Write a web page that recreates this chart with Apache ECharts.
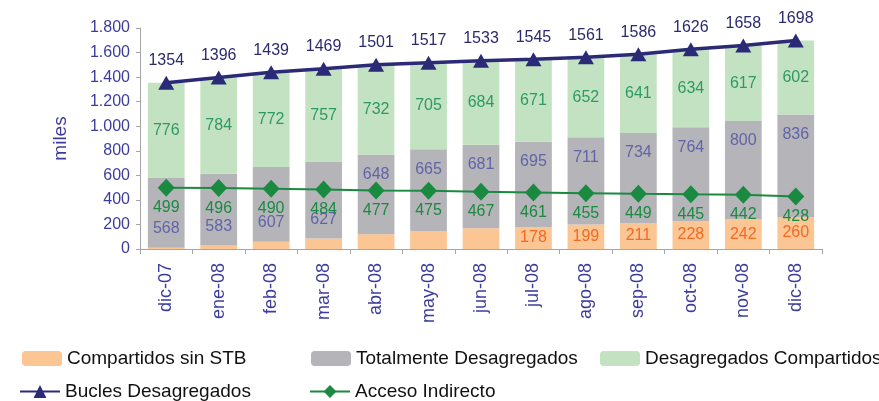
<!DOCTYPE html>
<html>
<head>
<meta charset="utf-8">
<script src="https://cdn.jsdelivr.net/npm/echarts@6/dist/echarts.min.js"></script>
<style>
html,body{margin:0;padding:0;background:#fff;}
#chart{width:879px;height:401px;}
</style>
</head>
<body>
<div id="chart"></div>
<script>
// datos (miles)
var months = ['dic-07','ene-08','feb-08','mar-08','abr-08','may-08','jun-08','jul-08','ago-08','sep-08','oct-08','nov-08','dic-08'];
var compartidosSinStb = [10,29,60,85,121,147,168,178,199,211,228,242,260];
var totalmenteDesag = [568,583,607,627,648,665,681,695,711,734,764,800,836];
var desagCompartidos = [776,784,772,757,732,705,684,671,652,641,634,617,602];
var buclesDesag = [1354,1396,1439,1469,1501,1517,1533,1545,1561,1586,1626,1658,1698];
var accesoIndirecto = [499,496,490,484,477,475,467,461,455,449,445,442,428];

var FONT = '"Liberation Sans", Arial, sans-serif';

var chart = echarts.init(document.getElementById('chart'));

var grayData = totalmenteDesag.map(function(v, i){
    // los primeros quedan debajo de las etiquetas de Acceso Indirecto
    if (i < 4) return {value: v, label: {position: 'insideBottom', distance: 11}};
    return {value: v, label: {position: 'insideTop', distance: 12}};
});
var orangeData = compartidosSinStb.map(function(v, i){
    return {value: v, label: {show: i >= 7}};
});

function legendAt(name, left, top, isLine){
    return {
        data: [name],
        left: left,
        top: top,
        itemWidth: 40,
        itemHeight: isLine ? 16 : 15,
        itemGap: 5,
        textStyle: {fontFamily: FONT, fontSize: 19, color: '#111'}
    };
}

var option = {
    animation: false,
    textStyle: {fontFamily: FONT},
    grid: {left: 140, right: 57, top: 28, bottom: 152},
    legend: [
        legendAt('Compartidos sin STB', 17, 344),
        legendAt('Totalmente Desagregados', 306, 344),
        legendAt('Desagregados Compartidos', 595, 344),
        legendAt('Bucles Desagregados', 14, 377, true),
        legendAt('Acceso Indirecto', 304, 377, true)
    ],
    xAxis: {
        type: 'category',
        data: months,
        axisLine: {lineStyle: {color: '#a6a6a6'}},
        axisTick: {show: true, length: 5, lineStyle: {color: '#a6a6a6'}},
        axisLabel: {rotate: 90, margin: 14, fontSize: 18, color: '#3c3c9c', fontFamily: FONT}
    },
    yAxis: {
        type: 'value',
        min: 0,
        max: 1800,
        interval: 200,
        name: 'miles',
        nameLocation: 'middle',
        nameGap: 70,
        nameTextStyle: {fontSize: 19, color: '#3c3c9c', fontFamily: FONT},
        splitLine: {show: false},
        axisLine: {show: true, lineStyle: {color: '#a6a6a6'}},
        axisTick: {show: true, length: 4, lineStyle: {color: '#a6a6a6'}},
        axisLabel: {
            fontSize: 16, color: '#3c3c9c', margin: 10, fontFamily: FONT,
            formatter: function(v){ return String(v).replace(/\B(?=(\d{3})+(?!\d))/g, '.'); }
        }
    },
    series: [
        {
            name: 'Compartidos sin STB',
            type: 'bar',
            stack: 'total',
            barWidth: '70%',
            data: orangeData,
            itemStyle: {color: '#fbc594'},
            label: {position: 'inside', fontSize: 16, color: '#f26a24', fontFamily: FONT}
        },
        {
            name: 'Totalmente Desagregados',
            type: 'bar',
            stack: 'total',
            data: grayData,
            itemStyle: {color: '#b4b4b9'},
            label: {show: true, fontSize: 16, color: '#6264a8', fontFamily: FONT}
        },
        {
            name: 'Desagregados Compartidos',
            type: 'bar',
            stack: 'total',
            data: desagCompartidos,
            itemStyle: {color: '#c3e2c1'},
            label: {show: true, position: 'inside', fontSize: 16, color: '#2e9a62', fontFamily: FONT}
        },
        {
            name: 'Bucles Desagregados',
            type: 'line',
            data: buclesDesag,
            symbol: 'triangle',
            symbolSize: [16, 14],
            showAllSymbol: true,
            z: 5,
            lineStyle: {color: '#2b2a76', width: 3.5},
            itemStyle: {color: '#2b2a76'},
            label: {show: true, position: 'top', distance: 7, fontSize: 16, color: '#2b2a6e', fontFamily: FONT}
        },
        {
            name: 'Acceso Indirecto',
            type: 'line',
            data: accesoIndirecto,
            symbol: 'diamond',
            symbolSize: [17, 18],
            showAllSymbol: true,
            z: 4,
            lineStyle: {color: '#1a8a40', width: 2},
            itemStyle: {color: '#1a8a40'},
            label: {show: true, position: 'bottom', distance: 3, fontSize: 16, color: '#1a8a40', fontFamily: FONT}
        }
    ]
};

chart.setOption(option);
</script>
</body>
</html>
